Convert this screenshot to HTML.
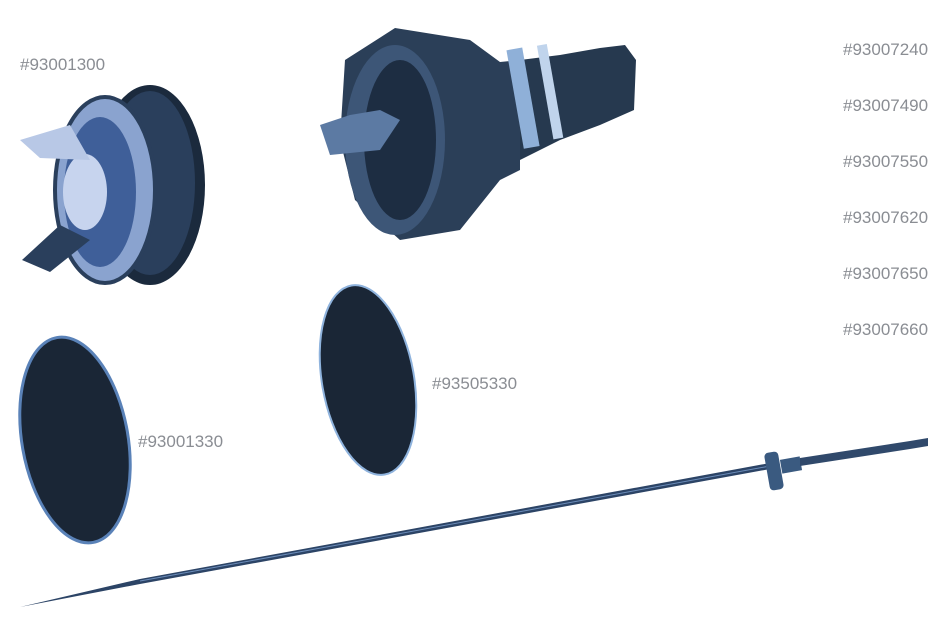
<!DOCTYPE html>
<html><head><style>
html,body{margin:0;padding:0;background:#fff;width:950px;height:637px;overflow:hidden}
.l{position:absolute;font-family:"Liberation Sans",sans-serif;font-size:17px;color:#8a8d93;letter-spacing:0px}
</style></head><body>
<svg width="950" height="637" style="position:absolute;left:0;top:0">
<!-- left cap -->
<ellipse cx="150" cy="185" rx="55" ry="100" fill="#1b2a3d"/>
<ellipse cx="150" cy="183" rx="45" ry="92" fill="#2a3f5c"/>
<ellipse cx="105" cy="190" rx="50" ry="93" fill="#8aa3cf" stroke="#2a3f5c" stroke-width="4"/>
<ellipse cx="100" cy="192" rx="36" ry="75" fill="#3f5f99"/>
<ellipse cx="85" cy="192" rx="22" ry="38" fill="#c7d4ee"/>
<polygon points="20,140 70,125 90,160 40,158" fill="#b8c8e6"/>
<polygon points="22,260 60,225 90,240 50,272" fill="#2a3f5c"/>
<!-- center part -->
<polygon points="345,60 395,28 470,40 500,62 520,60 520,170 500,180 460,230 400,240 355,200 340,140" fill="#2b3f58"/>
<polygon points="520,60 560,55 600,48 625,45 636,60 634,110 600,125 560,140 520,160" fill="#26394f"/>
<ellipse cx="395" cy="140" rx="50" ry="95" fill="#3d5677"/>
<ellipse cx="400" cy="140" rx="36" ry="80" fill="#1d2d42"/>
<rect x="515" y="48" width="16" height="100" fill="#8fb0d8" transform="rotate(-10 524 98)"/>
<rect x="545" y="44" width="10" height="95" fill="#c0d4ec" transform="rotate(-10 551 91)"/>
<polygon points="320,125 350,115 380,110 400,120 380,150 330,155" fill="#5c7aa3"/>
<!-- seals -->
<ellipse cx="368" cy="380" rx="46" ry="96" transform="rotate(-10 368 380)" fill="#1a2636" stroke="#8fb3dd" stroke-width="2"/>
<ellipse cx="75" cy="440" rx="53" ry="104" transform="rotate(-10 75 440)" fill="#1a2636" stroke="#5a82b8" stroke-width="3"/>
<!-- needle -->
<polygon points="20,607 140,579 770,463 770,469 140,584" fill="#2c4466"/>
<line x1="140" y1="581" x2="770" y2="466" stroke="#6c8dba" stroke-width="1"/>
<rect x="767" y="452" width="14" height="38" rx="4" fill="#3a5a80" transform="rotate(-10 774 471)"/>
<rect x="781" y="458" width="20" height="14" fill="#3a5a80" transform="rotate(-10 791 465)"/>
<polygon points="800,458 910,441 928,438 928,446 910,449 800,466" fill="#30496b"/>
</svg>
<div class="l" style="left:20px;top:55px">#93001300</div>
<div class="l" style="left:843px;top:40px">#93007240</div>
<div class="l" style="left:843px;top:96px">#93007490</div>
<div class="l" style="left:843px;top:152px">#93007550</div>
<div class="l" style="left:843px;top:208px">#93007620</div>
<div class="l" style="left:843px;top:264px">#93007650</div>
<div class="l" style="left:843px;top:320px">#93007660</div>
<div class="l" style="left:432px;top:374px">#93505330</div>
<div class="l" style="left:138px;top:432px">#93001330</div>
</body></html>
